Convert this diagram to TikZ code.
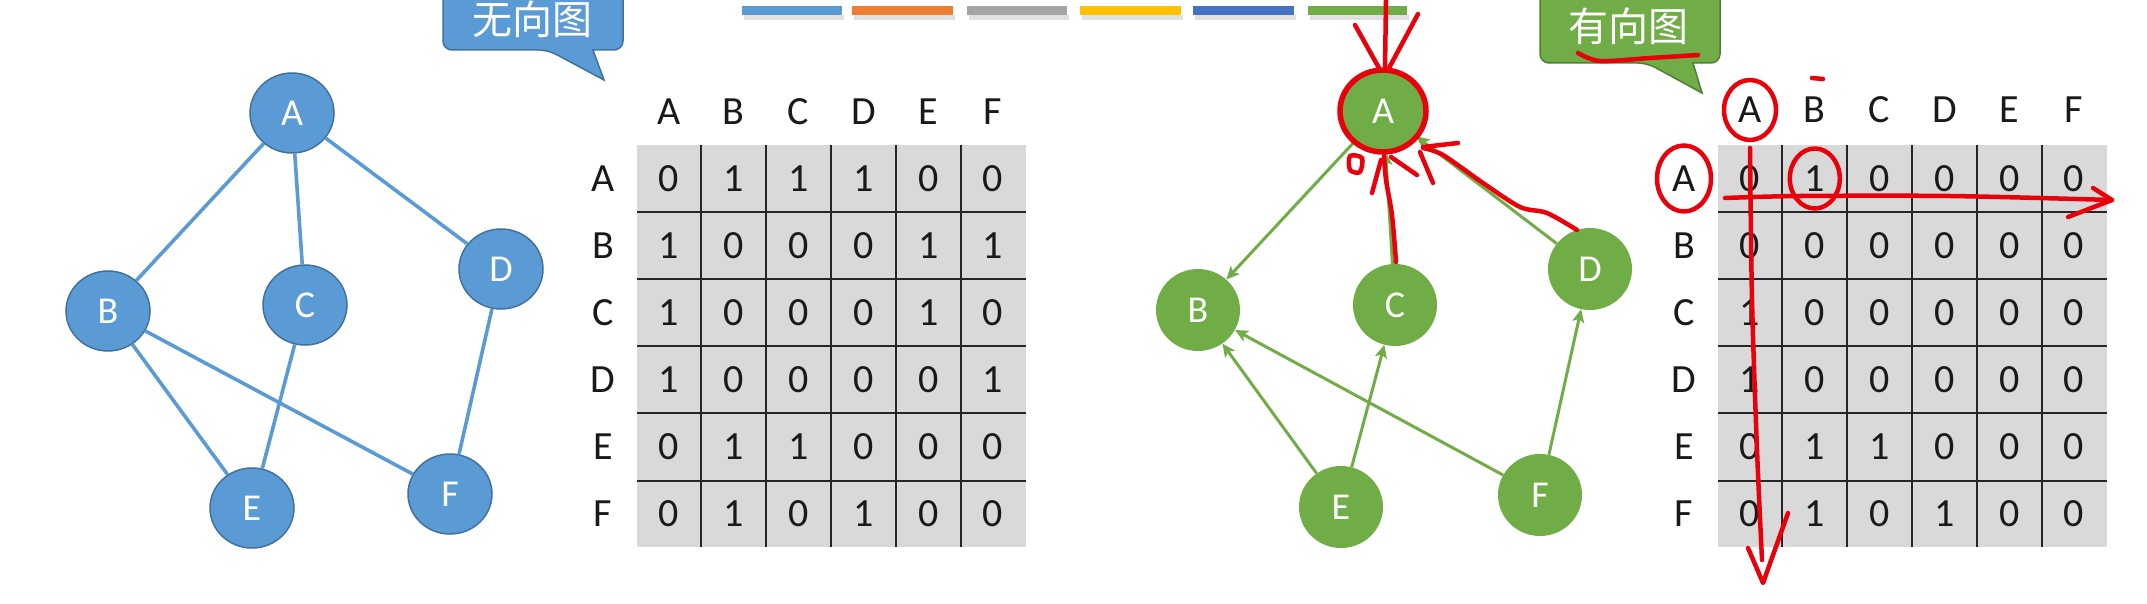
\documentclass[tikz,border=0pt]{standalone}
\usepackage{fontspec}
\setmainfont{Carlito}
\newfontfamily\cjkfont{Noto Sans CJK SC}
\usetikzlibrary{shapes.geometric,arrows.meta}
\definecolor{nblue}{HTML}{5B9BD5}
\definecolor{nblueb}{HTML}{41719C}
\definecolor{ngreen}{HTML}{70AD47}
\definecolor{ngreenb}{HTML}{507E32}
\definecolor{matgray}{HTML}{D9D9D9}
\definecolor{annred}{HTML}{E8000B}
\definecolor{barorange}{HTML}{ED7D31}
\definecolor{bargray}{HTML}{A5A5A5}
\definecolor{baryellow}{HTML}{FFC000}
\definecolor{bardblue}{HTML}{4472C4}
\begin{document}
\begin{tikzpicture}[x=1pt,y=-1pt,
  bnode/.style={ellipse, fill=nblue, draw=nblueb, line width=1.5pt, minimum width=84pt, minimum height=80pt, inner sep=0pt, text=white, font=\fontsize{38}{44}\selectfont},
  gnode/.style={ellipse, fill=ngreen, minimum width=84pt, minimum height=82pt, inner sep=0pt, text=white, font=\fontsize{38}{44}\selectfont},
  bedge/.style={draw=nblue, line width=3.6pt},
  gedge/.style={draw=ngreen, line width=3pt, -{Stealth[length=13pt,width=12pt,inset=3pt]}},
  lbl/.style={font=\fontsize{40}{48}\selectfont, inner sep=0pt, text=black!90},
  cell/.style={font=\fontsize{40}{48}\selectfont, inner sep=0pt, text=black!90},
  gridline/.style={draw=black!85, line width=1.8pt},
  redmark/.style={draw=annred, line width=4.5pt, line cap=round, line join=round},
  callouttext/.style={font=\cjkfont\fontsize{40}{46}\selectfont, text=white, inner sep=0pt},
]
\useasboundingbox (0,0) rectangle (2147,604);
\fill[white] (0,0) rectangle (2147,604);
\clip (0,0) rectangle (2147,604);

% top colour bars
\foreach \xa/\xb/\col in {742/842/nblue, 852/953/barorange, 967/1067/bargray, 1080/1181/baryellow, 1193/1294/bardblue, 1308/1407/ngreen} {
  \fill[black, opacity=0.12] (\xa+2,15) rectangle (\xb+2,20);
  \fill[\col] (\xa,6) rectangle (\xb,15);
}

% callouts
\draw[fill=nblue, draw=nblueb, line width=1.5pt] (443,-20) [rounded corners=9pt] -- (443,50) -- (548,50) [sharp corners] -- (604,80) -- (593,50) [rounded corners=9pt] -- (623,50) -- (623,-20) [sharp corners] -- cycle;
\node[callouttext] (tu) at (532,19) {无向图};
\draw[fill=ngreen, draw=ngreenb, line width=1.5pt] (1540,-20) [rounded corners=9pt] -- (1540,63) -- (1647,63) [sharp corners] -- (1702,93) -- (1693,63) [rounded corners=9pt] -- (1720,63) -- (1720,-20) [sharp corners] -- cycle;
\node[callouttext] (td) at (1628,26) {有向图};

% undirected graph
\node[bnode] (lA) at (292,113) {A};
\node[bnode] (lB) at (108,311) {B};
\node[bnode] (lC) at (305,305) {C};
\node[bnode] (lD) at (501,269) {D};
\node[bnode] (lE) at (252,508) {E};
\node[bnode] (lF) at (450,494) {F};
\foreach \a/\b in {A/B,A/C,A/D,B/E,B/F,C/E,D/F} \draw[bedge] (l\a) -- (l\b);

% directed graph
\node[gnode] (rA) at (1383,111) {A};
\node[gnode] (rB) at (1198,310) {B};
\node[gnode] (rC) at (1395,305) {C};
\node[gnode] (rD) at (1590,269) {D};
\node[gnode] (rE) at (1341,507) {E};
\node[gnode] (rF) at (1540,495) {F};
\foreach \a/\b in {A/B,C/A,D/A,E/B,E/C,F/B,F/D} \draw[gedge] (r\a) -- (r\b);

% left matrix
\fill[matgray] (637,145) rectangle (1026,547);
\foreach \x in {701,766,831,896,961} \draw[gridline] (\x,145) -- (\x,547);
\foreach \y in {212,279,346,413,481} \draw[gridline] (637,\y) -- (1026,\y);
\foreach \l [count=\i from 0] in {A,B,C,D,E,F} {
  \node[lbl] (lh\l) at ({669+64.8*\i},112) {\l};
  \node[lbl] (lr\l) at (603,{178.5+67*\i}) {\l};
}
\foreach \vals [count=\r from 0] in {{0,1,1,1,0,0},{1,0,0,0,1,1},{1,0,0,0,1,0},{1,0,0,0,0,1},{0,1,1,0,0,0},{0,1,0,1,0,0}} {
  \foreach \v [count=\c from 0] in \vals {
    \node[cell] (lm-\r-\c) at ({669+64.8*\c},{178.5+67*\r}) {\v};
  }
}

% right matrix
\fill[matgray] (1718,145) rectangle (2107,547);
\foreach \x in {1782,1847,1912,1977,2042} \draw[gridline] (\x,145) -- (\x,547);
\foreach \y in {212,279,346,413,481} \draw[gridline] (1718,\y) -- (2107,\y);
\foreach \l [count=\i from 0] in {A,B,C,D,E,F} {
  \node[lbl] (rh\l) at ({1750+64.8*\i},110) {\l};
  \node[lbl] (rr\l) at (1684,{178.5+67*\i}) {\l};
}
\foreach \vals [count=\r from 0] in {{0,1,0,0,0,0},{0,0,0,0,0,0},{1,0,0,0,0,0},{1,0,0,0,0,0},{0,1,1,0,0,0},{0,1,0,1,0,0}} {
  \foreach \v [count=\c from 0] in \vals {
    \node[cell] (rm-\r-\c) at ({1750+64.8*\c},{178.5+67*\r}) {\v};
  }
}

% red handwritten annotations
\draw[redmark, line width=5.5pt] (rA) ellipse [x radius=43, y radius=41];
\draw[redmark] (1386,0) -- (1385,68);
\draw[redmark] (1355,25) -- (1379,68);
\draw[redmark] (1418,14) -- (1389,68);
\draw[redmark] plot[smooth] coordinates {(1396,262) (1392,215) (1386,180) (1384,156)};
\draw[redmark] (1372,193) -- (1381,160);
\draw[redmark] (1417,175) -- (1391,157);
\draw[redmark] plot[smooth cycle] coordinates {(1350,156) (1362,158) (1360,172) (1350,170)};
\draw[redmark] (1433,183) -- (1420,152);
\draw[redmark] (1458,143) -- (1423,147);
\draw[redmark] plot[smooth] coordinates {(1577,230) (1547,213) (1520,207) (1483,183) (1443,155) (1423,148)};
\draw[redmark] plot[smooth] coordinates {(1578,53) (1600,61) (1650,58) (1698,55)};
\draw[redmark] (1812,78) -- (1823,79);
\draw[redmark] (rhA) ellipse [x radius=26, y radius=30];
\draw[redmark] (rrA) ellipse [x radius=27, y radius=33];
\draw[redmark] (rm-0-1) ellipse [x radius=25, y radius=30];
\draw[redmark] plot[smooth] coordinates {(1725,198) (1800,196) (1950,196) (2112,200)};
\draw[redmark] (2093,188) -- (2112,200) -- (2068,217);
\draw[redmark] plot[smooth] coordinates {(1750,148) (1752,300) (1757,450) (1762,560)};
\draw[redmark] (1748,548) -- (1763,583) -- (1788,513);
\end{tikzpicture}
\end{document}
